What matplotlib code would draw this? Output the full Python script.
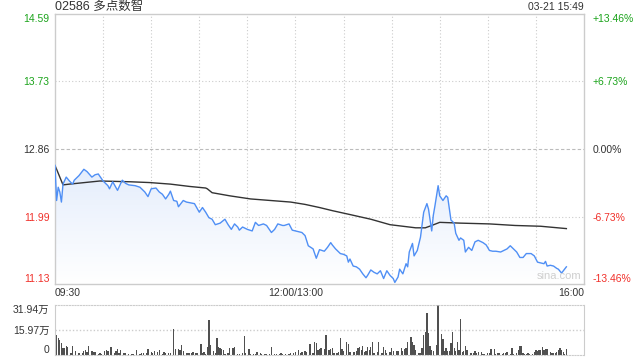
import numpy as np
import matplotlib
matplotlib.use("Agg")
import matplotlib.pyplot as plt
from matplotlib.colors import LinearSegmentedColormap

plt.rcParams['font.family'] = ['Liberation Sans', 'Noto Sans CJK SC', 'DejaVu Sans']

# ---- data (minutes from 09:30, lunch break removed) ----
price_t = [0, 1, 2, 3, 4, 5, 7, 9, 11, 12, 15, 18, 20, 23, 25, 27, 29, 30, 33, 34,
           36, 39, 41, 42, 44, 46, 50, 53, 56, 58, 60, 63, 65, 67, 69, 71, 72, 74, 76, 77,
           80, 82, 87, 90, 92, 94, 96, 98, 100, 103, 106, 108, 110, 112, 114, 115, 117, 120, 123, 125,
           127, 130, 132, 135, 137, 139, 142, 143, 146, 148, 150, 154, 156, 158, 161, 163, 165, 168, 170, 172,
           173, 175, 178, 180, 182, 183, 184, 186, 188, 190, 192, 194, 195, 197, 199, 201, 203, 205, 207, 209,
           211, 212, 214, 215, 217, 219, 220, 221, 223, 224, 226, 228, 230, 232, 233, 235, 236, 237, 239, 240,
           242, 244, 245, 247, 249, 250, 252, 253, 255, 256, 258, 260, 262, 264, 267, 269, 271, 273, 275, 278,
           280, 282, 284, 286, 288, 290, 292, 294, 297, 299, 301, 305, 306, 307, 309, 311, 313, 314, 316, 319]
price = [12.65, 12.20, 12.37, 12.31, 12.18, 12.41, 12.50, 12.45, 12.41, 12.46, 12.52, 12.60, 12.57, 12.50, 12.53, 12.54, 12.48, 12.45, 12.39, 12.35,
         12.44, 12.33, 12.42, 12.46, 12.42, 12.40, 12.39, 12.37, 12.31, 12.25, 12.35, 12.36, 12.31, 12.28, 12.22, 12.28, 12.32, 12.20, 12.19, 12.12,
         12.20, 12.18, 12.16, 12.05, 12.11, 12.05, 11.98, 11.96, 11.89, 11.91, 11.96, 11.89, 11.83, 11.90, 11.86, 11.82, 11.86, 11.83, 11.81, 11.92,
         11.88, 11.90, 11.88, 11.79, 11.83, 11.90, 11.88, 11.88, 11.90, 11.82, 11.81, 11.79, 11.75, 11.62, 11.58, 11.46, 11.57, 11.55, 11.60, 11.66,
         11.63, 11.58, 11.52, 11.51, 11.49, 11.41, 11.45, 11.36, 11.35, 11.32, 11.26, 11.21, 11.24, 11.31, 11.28, 11.26, 11.30, 11.20, 11.30, 11.24,
         11.20, 11.15, 11.22, 11.32, 11.26, 11.39, 11.35, 11.54, 11.65, 11.49, 11.56, 11.73, 12.05, 12.16, 12.09, 11.81, 12.01, 12.13, 12.39, 12.26,
         12.20, 12.26, 12.24, 11.95, 11.91, 11.78, 11.69, 11.72, 11.69, 11.54, 11.60, 11.56, 11.67, 11.69, 11.66, 11.63, 11.56, 11.55, 11.55, 11.54,
         11.56, 11.58, 11.62, 11.58, 11.54, 11.47, 11.47, 11.52, 11.52, 11.49, 11.41, 11.39, 11.42, 11.36, 11.37, 11.36, 11.33, 11.32, 11.27, 11.35]

avg_t = [0, 5, 9, 28, 47, 59, 72, 84, 94, 95, 98, 109, 122, 147, 156, 165, 173, 184, 197, 209,
         225, 231, 235, 240, 253, 271, 287, 303, 319]
avg = [12.65, 12.40, 12.41, 12.45, 12.44, 12.43, 12.41, 12.38, 12.36, 12.35, 12.30, 12.26, 12.22, 12.18, 12.15, 12.11, 12.07, 12.02, 11.96, 11.89,
       11.85, 11.85, 11.88, 11.92, 11.91, 11.90, 11.88, 11.87, 11.84]

vol_t = [0, 1, 2, 3, 4, 5, 6, 7, 8, 10, 11, 13, 15, 17, 18, 19, 20, 21, 23, 24,
         25, 27, 28, 29, 31, 32, 33, 35, 37, 38, 39, 40, 41, 43, 44, 46, 48, 49, 51, 53,
         54, 55, 57, 58, 60, 61, 62, 64, 65, 67, 68, 69, 71, 72, 74, 75, 77, 78, 79, 80,
         82, 83, 84, 85, 86, 88, 89, 91, 92, 93, 94, 95, 96, 97, 99, 100, 101, 102, 103, 104,
         105, 106, 108, 109, 111, 112, 114, 115, 117, 118, 119, 121, 122, 124, 125, 126, 128, 129, 131, 132,
         134, 135, 137, 138, 140, 141, 142, 144, 146, 147, 149, 150, 152, 153, 154, 156, 157, 159, 161, 162,
         163, 164, 165, 166, 168, 169, 171, 172, 173, 174, 176, 177, 178, 179, 180, 182, 183, 184, 186, 187,
         188, 189, 190, 191, 192, 193, 194, 195, 196, 197, 198, 199, 201, 202, 204, 205, 206, 207, 209, 210,
         211, 213, 214, 216, 217, 218, 219, 220, 222, 223, 224, 225, 227, 228, 229, 230, 231, 232, 233, 234,
         235, 236, 238, 239, 241, 242, 243, 244, 245, 246, 247, 248, 249, 250, 251, 252, 253, 254, 255, 256,
         257, 259, 260, 261, 262, 263, 264, 266, 267, 268, 270, 271, 272, 274, 275, 276, 277, 279, 280, 281,
         282, 284, 285, 286, 288, 289, 290, 291, 292, 293, 294, 295, 296, 298, 299, 300, 301, 302, 303, 304,
         305, 306, 307, 309, 310, 311, 312, 313, 314, 315, 316, 317, 318, 319]
vol = [6.4, 12.8, 10.6, 9.6, 7.5, 4.3, 4.7, 6.0, 5.3, 1.1, 6.0, 2.6, 1.1, 1.1, 2.8, 3.2, 2.1, 6.0, 2.6, 1.7,
       1.7, 0.6, 1.1, 0.9, 2.6, 3.2, 2.6, 5.3, 1.5, 2.6, 3.6, 1.1, 3.2, 1.1, 1.5, 0.9, 0.4, 0.6, 3.2, 0.4,
       1.1, 1.1, 1.1, 3.8, 2.1, 1.5, 2.6, 1.7, 3.2, 0.9, 1.7, 1.5, 1.5, 1.1, 16.6, 3.8, 3.6, 3.2, 6.4, 2.6,
       1.1, 1.1, 1.1, 1.1, 1.7, 1.1, 1.5, 6.8, 1.1, 1.7, 0.4, 5.3, 22.2, 6.4, 2.6, 1.1, 10.6, 5.3, 4.3, 3.8,
       3.2, 0.6, 1.1, 4.3, 4.3, 5.3, 0.4, 0.4, 1.1, 12.4, 1.1, 3.6, 0.4, 0.4, 0.4, 2.1, 1.1, 0.4, 0.4, 0.4,
       0.4, 5.3, 0.4, 0.4, 0.4, 1.1, 0.4, 0.4, 0.4, 1.1, 1.1, 2.1, 3.2, 1.1, 2.1, 2.6, 2.1, 6.8, 1.1, 8.1,
       7.5, 3.2, 3.8, 4.3, 3.8, 12.8, 3.2, 3.8, 4.3, 1.1, 1.1, 1.7, 10.6, 3.6, 2.8, 8.1, 6.8, 2.1, 1.7, 1.7,
       2.6, 4.7, 5.3, 3.2, 6.0, 1.7, 2.6, 4.9, 3.2, 5.3, 8.5, 1.1, 2.1, 8.5, 1.1, 5.3, 3.2, 1.1, 1.7, 4.3,
       2.8, 2.8, 2.8, 4.3, 2.8, 3.8, 4.3, 8.5, 11.7, 8.5, 6.4, 3.2, 1.1, 1.1, 4.3, 12.8, 14.9, 26.6, 14.3, 6.0,
       3.2, 2.6, 6.4, 31.9, 13.2, 10.2, 2.6, 4.3, 2.6, 2.6, 7.5, 14.9, 4.3, 2.6, 8.1, 3.2, 22.8, 1.7, 2.6, 6.0,
       3.2, 1.1, 1.1, 1.1, 2.8, 1.1, 1.7, 1.7, 0.6, 0.4, 1.1, 1.1, 3.6, 3.6, 0.4, 1.1, 1.5, 0.4, 1.1, 1.1,
       1.7, 0.6, 4.3, 0.4, 1.1, 3.2, 6.0, 6.0, 1.1, 0.4, 0.4, 1.1, 0.4, 0.4, 2.1, 3.2, 2.6, 3.2, 3.2, 5.3,
       3.2, 3.8, 3.8, 1.7, 1.1, 1.1, 1.1, 1.7, 3.2, 4.7, 3.2, 1.7, 0.4, 3.8]

prev_close = 12.86
price_ticks = [11.13, 11.99, 12.86, 13.73, 14.59]
price_labels = ['11.13', '11.99', '12.86', '13.73', '14.59']
pct_labels = ['-13.46%', '-6.73%', '0.00%', '+6.73%', '+13.46%']
time_ticks = [0, 150, 330]
time_labels = ['09:30', '12:00/13:00', '16:00']
vol_ticks = [0, 15.97, 31.94]
vol_labels = ['0', '15.97万', '31.94万']
title = '02586 多点数智'
stamp = '03-21 15:49'

GREEN = '#1aa31a'
RED = '#f0302a'
DARK = '#333333'
GRID = '#cccccc'
BLUE = '#4f8ff5'


def tick_color(v):
    if v > prev_close + 1e-6:
        return GREEN
    if v < prev_close - 1e-6:
        return RED
    return DARK


fig = plt.figure(figsize=(6.4, 3.6), dpi=100)
ax = fig.add_axes([55 / 640, 76 / 360, 529 / 640, 270 / 360])
axv = fig.add_axes([55 / 640, 5 / 360, 529 / 640, 50 / 360])

x0, x1 = 0, 330
y0, y1 = price_ticks[0], price_ticks[-1]
ax.set_xlim(x0, x1)
ax.set_ylim(y0, y1)

# grid
for t in range(30, 330, 30):
    ax.axvline(t, color=GRID, lw=0.8, ls=(0, (1, 2)), zorder=0)
for p in price_ticks[1:-1]:
    if p == prev_close:
        ax.axhline(p, color='#bbbbbb', lw=0.8, ls=(0, (3, 2)), zorder=0)
    else:
        ax.axhline(p, color=GRID, lw=0.8, ls=(0, (1, 2)), zorder=0)

# gradient fill under the price line
poly = ax.fill_between(price_t, price, y0, color='none', lw=0)
cmap = LinearSegmentedColormap.from_list('fade', ['#ffffff', '#e4edfc'])
grad = np.linspace(0, 1, 256).reshape(-1, 1)
im = ax.imshow(grad, cmap=cmap, aspect='auto', origin='lower',
               extent=[x0, x1, y0, max(price)], zorder=1)
im.set_clip_path(poly.get_paths()[0], transform=ax.transData)

ax.plot(price_t, price, color=BLUE, lw=1.0, zorder=3)
ax.plot(avg_t, avg, color='#333333', lw=1.0, zorder=2)

for s in ax.spines.values():
    s.set_color(GRID)
    s.set_linewidth(1)

ax.set_xticks(time_ticks)
ax.set_xticklabels(time_labels)
ax.tick_params(axis='x', length=0, pad=3, labelsize=7.5, colors=DARK)
xl = ax.get_xticklabels()
xl[0].set_ha('left')
xl[-1].set_ha('right')

ax.set_yticks(price_ticks)
ax.set_yticklabels(price_labels)
ax.tick_params(axis='y', length=0, pad=4, labelsize=7.5)
for lab, v in zip(ax.get_yticklabels(), price_ticks):
    lab.set_color(tick_color(v))

axr = ax.twinx()
axr.set_ylim(y0, y1)
axr.set_yticks(price_ticks)
axr.set_yticklabels(pct_labels)
axr.tick_params(axis='y', length=0, pad=6, labelsize=7.5)
for s in axr.spines.values():
    s.set_visible(False)
for lab, v in zip(axr.get_yticklabels(), price_ticks):
    lab.set_color(tick_color(v))

for labs in (ax.get_yticklabels(), axr.get_yticklabels()):
    labs[0].set_va('bottom')
    labs[-1].set_va('top')

ax.text(0.995, 0.012, 'sina.com', transform=ax.transAxes, ha='right', va='bottom',
        fontsize=8, color='#cfcfcf', zorder=4)

fig.text(55 / 640, 1 - 7 / 360, title, ha='left', va='center', fontsize=9, color=DARK)
fig.text(584 / 640, 1 - 7 / 360, stamp, ha='right', va='center', fontsize=7.5, color=DARK)

# volume panel
axv.set_xlim(x0, x1)
axv.set_ylim(vol_ticks[0], vol_ticks[-1])
axv.bar(vol_t, vol, width=0.8, color='#505050', lw=0)
axv.axhline(vol_ticks[1], color=GRID, lw=1, ls=(0, (1, 1.5)), zorder=0)
axv.spines['top'].set_color(GRID)
axv.spines['top'].set_linestyle((0, (1, 1.5)))
axv.spines['bottom'].set_color(GRID)
axv.spines['bottom'].set_linestyle((0, (1, 1.5)))
axv.spines['left'].set_color(GRID)
axv.spines['right'].set_color(GRID)
axv.set_xticks([])
axv.set_yticks(vol_ticks)
axv.set_yticklabels(vol_labels)
axv.tick_params(axis='y', length=0, pad=4, labelsize=7.5, colors=DARK)
vl = axv.get_yticklabels()
vl[0].set_va('bottom')
vl[-1].set_va('top')

fig.savefig('out.png', dpi=100)
